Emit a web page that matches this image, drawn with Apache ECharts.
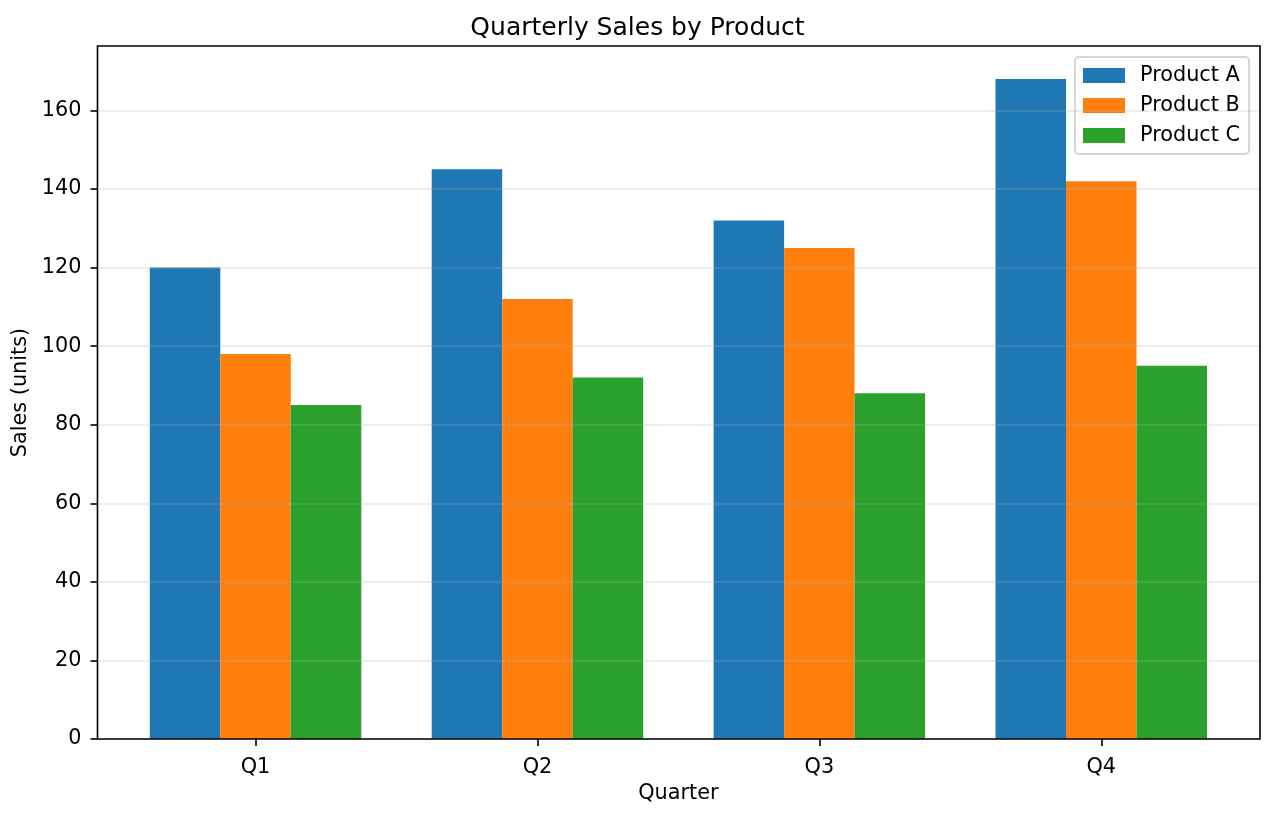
<!DOCTYPE html>
<html>
<head>
<meta charset="utf-8">
<script src="https://cdn.jsdelivr.net/npm/echarts@6/dist/echarts.min.js"></script>
<style>
html, body { margin: 0; padding: 0; background: #fff; }
#main { width: 1275px; height: 817px; }
</style>
</head>
<body>
<div id="main"></div>
<script>
var quarters = ['Q1', 'Q2', 'Q3', 'Q4'];
var productNames = ['Product A', 'Product B', 'Product C'];
var productA = [120, 145, 132, 168];
var productB = [98, 112, 125, 142];
var productC = [85, 92, 88, 95];
var yTicks = [0, 20, 40, 60, 80, 100, 120, 140, 160];
var yMax = 176.4;

(function(){
    var dom = document.getElementById("main");
    var myChart = echarts.init(dom);
    var font = 'DejaVu Sans';
    var colors = ['#1f77b4', '#ff7f0e', '#2ca02c'];
    var seriesData = [productA, productB, productC];

    var series = [];
    for (var i = 0; i < productNames.length; i++) {
        series.push({
            name: productNames[i],
            type: 'bar',
            xAxisIndex: 1,
            yAxisIndex: 1,
            barWidth: 70.5,
            barGap: '0%',
            itemStyle: { color: colors[i] },
            data: seriesData[i]
        });
    }

    var option = {
        backgroundColor: '#fff',
        animation: false,
        color: colors,
        title: {
            text: 'Quarterly Sales by Product',
            left: 'center',
            top: 16,
            padding: [0, 0, 0, 83],
            textStyle: { fontFamily: font, fontSize: 25, fontWeight: 'normal', color: '#000' }
        },
        legend: {
            data: productNames,
            orient: 'vertical',
            left: 1075,
            top: 57,
            padding: [8, 9, 8, 8],
            itemWidth: 42,
            itemHeight: 15,
            itemGap: 9,
            icon: 'rect',
            backgroundColor: 'rgba(255,255,255,0.8)',
            borderColor: '#d6d6d6',
            borderWidth: 2,
            borderRadius: 4,
            textStyle: { fontFamily: font, fontSize: 20.8, color: '#000', lineHeight: 21, padding: [0, 0, 0, 10] }
        },
        grid: [
            // frame
            { left: 97.5, right: 15, top: 46, bottom: 78, show: true, z: 10,
              borderColor: '#000', borderWidth: 1.6, backgroundColor: 'transparent' },
            // bars
            { left: 114.6, right: 32.8, top: 46, bottom: 78 }
        ],
        xAxis: [
            { type: 'value', gridIndex: 0, min: 0, max: 1, show: false },
            {
                type: 'category', gridIndex: 1, data: quarters,
                name: 'Quarter', nameLocation: 'middle', nameGap: 44,
                nameTextStyle: { fontFamily: font, fontSize: 20.8, color: '#000' },
                axisLine: { show: false },
                axisTick: { show: true, alignWithLabel: true, length: 7, lineStyle: { color: '#000', width: 1.6 } },
                axisLabel: { fontFamily: font, fontSize: 20.8, color: '#000', margin: 18 }
            }
        ],
        yAxis: [
            {
                type: 'value', gridIndex: 0, min: 0, max: yMax, interval: 20, z: 5,
                name: 'Sales (units)', nameLocation: 'middle', nameGap: 59, nameRotate: 90,
                nameTextStyle: { fontFamily: font, fontSize: 20.8, color: '#000' },
                axisLine: { show: false },
                axisTick: { show: true, length: 7, customValues: yTicks, lineStyle: { color: '#000', width: 1.6 } },
                axisLabel: { fontFamily: font, fontSize: 20.8, color: '#000', margin: 16, customValues: yTicks, padding: [3, 0, 0, 0] },
                splitLine: { show: true, lineStyle: { color: 'rgba(176,176,176,0.3)', width: 1.6 } }
            },
            { type: 'value', gridIndex: 1, min: 0, max: yMax, show: false }
        ],
        series: series
    };

    if (option && typeof option === "object") {
        myChart.setOption(option, true);
    }
})();
</script>
</body>
</html>
